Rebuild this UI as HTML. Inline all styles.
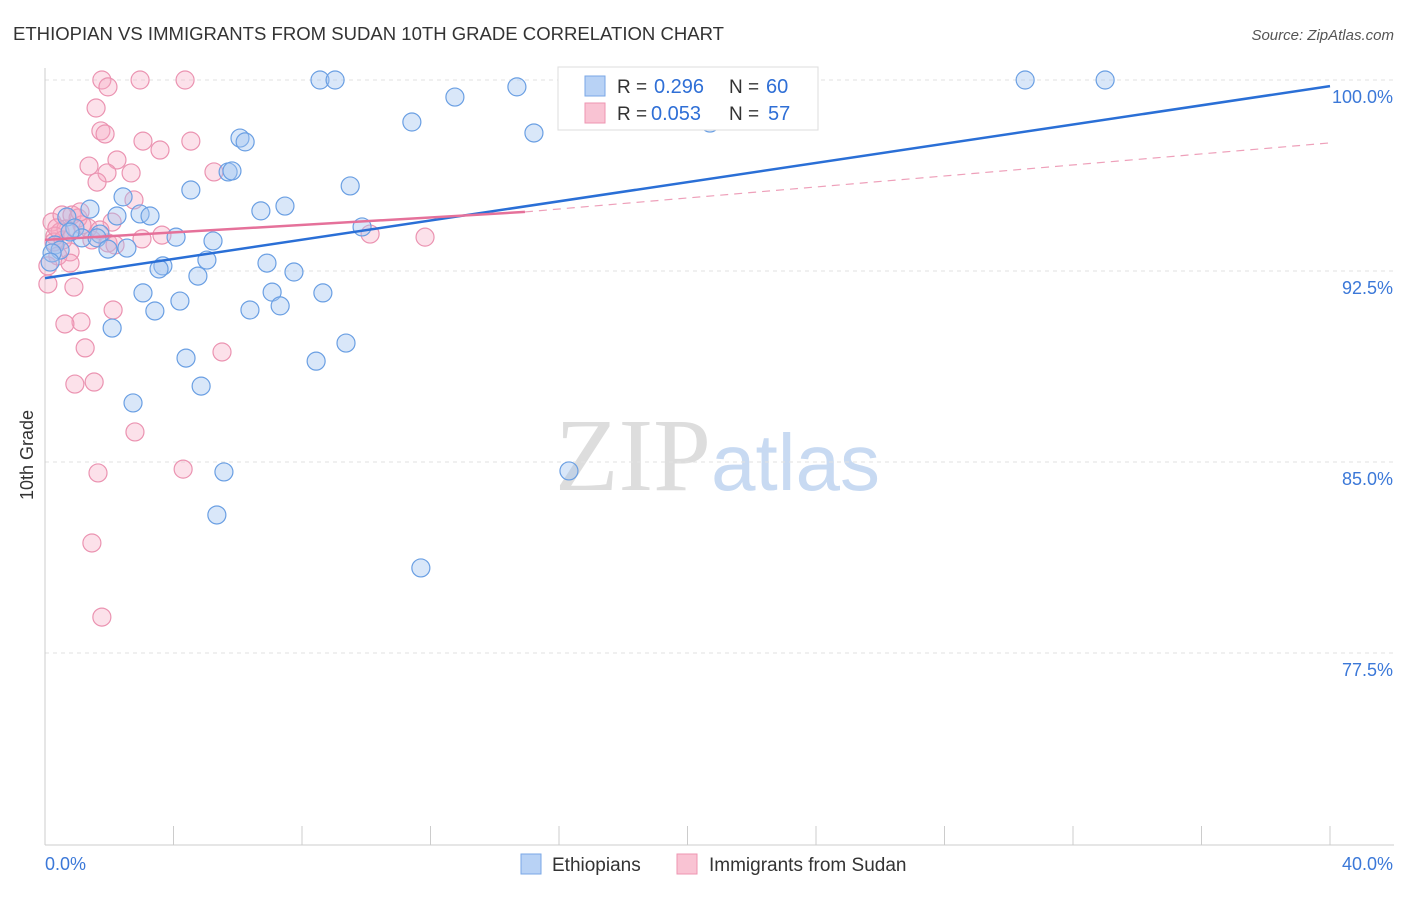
<!DOCTYPE html>
<html><head><meta charset="utf-8"><style>
body{margin:0;background:#fff;font-family:"Liberation Sans",sans-serif}
</style></head><body>
<svg id="chart" width="1406" height="892" xmlns="http://www.w3.org/2000/svg" font-family="Liberation Sans, sans-serif">
<text x="13" y="40" font-size="18" fill="#333" textLength="711" lengthAdjust="spacingAndGlyphs">ETHIOPIAN VS IMMIGRANTS FROM SUDAN 10TH GRADE CORRELATION CHART</text>
<text x="1394" y="40" font-size="15" fill="#555" text-anchor="end" font-style="italic">Source: ZipAtlas.com</text>
<text x="555" y="490" font-size="104" fill="#ddd" font-family="Liberation Serif, serif">ZIP<tspan fill="#c8daf2" font-family="Liberation Sans, sans-serif" font-size="80">atlas</tspan></text>
<text transform="translate(33,455) rotate(-90)" font-size="18" fill="#333" text-anchor="middle">10th Grade</text>
<g id="grid"></g><g id="axes"></g><g id="pts"></g><g id="lines"></g>
<g>
<rect x="558" y="67" width="260" height="63" fill="#fff" stroke="#ddd"/>
<rect x="585" y="76" width="20" height="20" fill="#b8d2f5" stroke="#7aa7e6"/>
<rect x="585" y="103" width="20" height="20" fill="#f9c3d3" stroke="#ee94b2"/>
<text x="617" y="93" font-size="19" fill="#333">R =</text>
<text x="654" y="93" font-size="20" fill="#2f6fd6">0.296</text>
<text x="729" y="93" font-size="19" fill="#333">N =</text>
<text x="766" y="93" font-size="20" fill="#2f6fd6">60</text>
<text x="617" y="120" font-size="19" fill="#333">R =</text>
<text x="651" y="120" font-size="20" fill="#2f6fd6">0.053</text>
<text x="729" y="120" font-size="19" fill="#333">N =</text>
<text x="768" y="120" font-size="20" fill="#2f6fd6">57</text>
</g>
<g>
<rect x="521" y="854" width="20" height="20" fill="#b8d2f5" stroke="#7aa7e6"/>
<text x="552" y="871" font-size="19" fill="#333">Ethiopians</text>
<rect x="677" y="854" width="20" height="20" fill="#f9c3d3" stroke="#ee94b2"/>
<text x="709" y="871" font-size="19" fill="#333">Immigrants from Sudan</text>
</g>
</svg>
<script>
const yTicks=[100,92.5,85,77.5];
const yTickLabels=["100.0%","92.5%","85.0%","77.5%"];
const blueX=[8.56,9.03,14.69,30.51,33.0,12.76,11.42,15.22,20.70,6.07,6.23,5.70,5.82,9.50,4.54,2.43,1.40,7.47,6.72,2.24,2.96,3.27,9.87,0.68,0.93,1.71,4.08,5.23,1.15,1.62,0.31,0.47,1.96,2.55,0.22,5.04,6.91,3.67,3.55,4.76,7.75,3.05,7.07,8.65,4.20,7.32,6.38,3.42,2.09,9.37,4.39,8.44,4.86,2.74,5.57,16.31,5.35,11.70,0.78,0.16];
const blueY=[100,100,99.73,100,100,99.33,98.35,97.92,98.31,97.72,97.57,96.39,96.43,95.84,95.68,95.41,94.93,95.05,94.86,94.66,94.74,94.66,94.23,94.62,94.19,93.95,93.83,93.68,93.80,93.80,93.52,93.32,93.36,93.40,93.21,92.93,92.81,92.70,92.58,92.30,92.46,91.64,91.67,91.64,91.32,91.13,90.97,90.93,90.26,89.67,89.08,88.96,87.98,87.32,84.61,84.65,82.92,80.84,94.03,92.85];
const pinkX=[1.77,2.96,4.36,1.96,1.59,1.74,1.87,3.05,4.54,3.58,2.24,1.37,5.26,1.93,2.68,1.62,2.77,2.09,0.22,0.53,0.84,1.34,1.03,1.15,0.47,0.65,0.31,1.46,1.96,3.02,3.64,10.12,11.83,0.28,0.78,0.40,0.78,0.09,0.90,2.12,1.12,0.62,1.25,5.51,0.93,1.53,2.80,4.30,1.65,1.46,1.77,0.56,1.71,2.18,1.09,0.09,0.37];
const pinkY=[100,100,100,99.73,98.90,98.0,97.88,97.60,97.60,97.25,96.86,96.62,96.39,96.35,96.35,95.99,95.29,94.42,94.42,94.70,94.70,94.19,94.58,94.31,94.03,94.15,93.87,93.72,93.60,93.76,93.91,93.95,93.83,93.64,93.25,93.09,92.81,91.99,91.87,90.97,90.50,90.42,89.48,89.32,88.06,88.14,86.18,84.72,84.57,81.82,78.91,93.72,94.11,93.52,94.82,92.70,94.19];
const blueLine=[92.22,99.76];
const pinkLine=[93.72,94.82,97.53];
const pinkSolidEnd=14.94;
const X=v=>45+v/40*1285, Y=v=>80+(100-v)/7.5*191;
const NS="http://www.w3.org/2000/svg";
function mk(p,t,a){const e=document.createElementNS(NS,t);for(const k in a)e.setAttribute(k,a[k]);document.getElementById(p).appendChild(e);return e;}
yTicks.forEach((t,i)=>{
 const g=mk('grid','line',{x1:45,x2:1394,y1:Y(t),y2:Y(t),stroke:'#e2e2e2','stroke-dasharray':'4,4'});
 
 
 const l=mk('axes','text',{x:1393,y:Y(t)+23,'font-size':18,fill:'#3b78d8','text-anchor':'end'});
 l.textContent=yTickLabels[i];
 
 
});
let a=mk('axes','line',{x1:45,x2:45,y1:68,y2:845,stroke:'#ccc'});


a=mk('axes','line',{x1:45,x2:1394,y1:845,y2:845,stroke:'#ccc'});


for(let i=0;i<=10;i++){const t=mk('axes','line',{x1:X(i*4),x2:X(i*4),y1:826,y2:845,stroke:'#ccc'});
 
 }
let xl=mk('axes','text',{x:45,y:870,'font-size':18,fill:'#3b78d8'});xl.textContent='0.0%';


xl=mk('axes','text',{x:1393,y:870,'font-size':18,fill:'#3b78d8','text-anchor':'end'});xl.textContent='40.0%';


pinkX.forEach((v,i)=>{const c=mk('pts','circle',{cx:X(v),cy:Y(pinkY[i]),r:9,fill:'rgba(246,170,195,0.35)',stroke:'#eb93b1','stroke-width':1.2});
 
 });
blueX.forEach((v,i)=>{const c=mk('pts','circle',{cx:X(v),cy:Y(blueY[i]),r:9,fill:'rgba(160,195,240,0.4)',stroke:'#6a9fe3','stroke-width':1.2});
 
 });
let ln=mk('lines','line',{x1:X(0),y1:Y(blueLine[0]),x2:X(40),y2:Y(blueLine[1]),stroke:'#2a6fd6','stroke-width':2.5});


ln=mk('lines','line',{x1:X(0),y1:Y(pinkLine[0]),x2:X(pinkSolidEnd),y2:Y(pinkLine[1]),stroke:'#e5719a','stroke-width':2.5});


ln=mk('lines','line',{x1:X(pinkSolidEnd),y1:Y(pinkLine[1]),x2:X(40),y2:Y(pinkLine[2]),stroke:'#eea0ba','stroke-width':1.2,'stroke-dasharray':'8,6'});


</script>
</body></html>
